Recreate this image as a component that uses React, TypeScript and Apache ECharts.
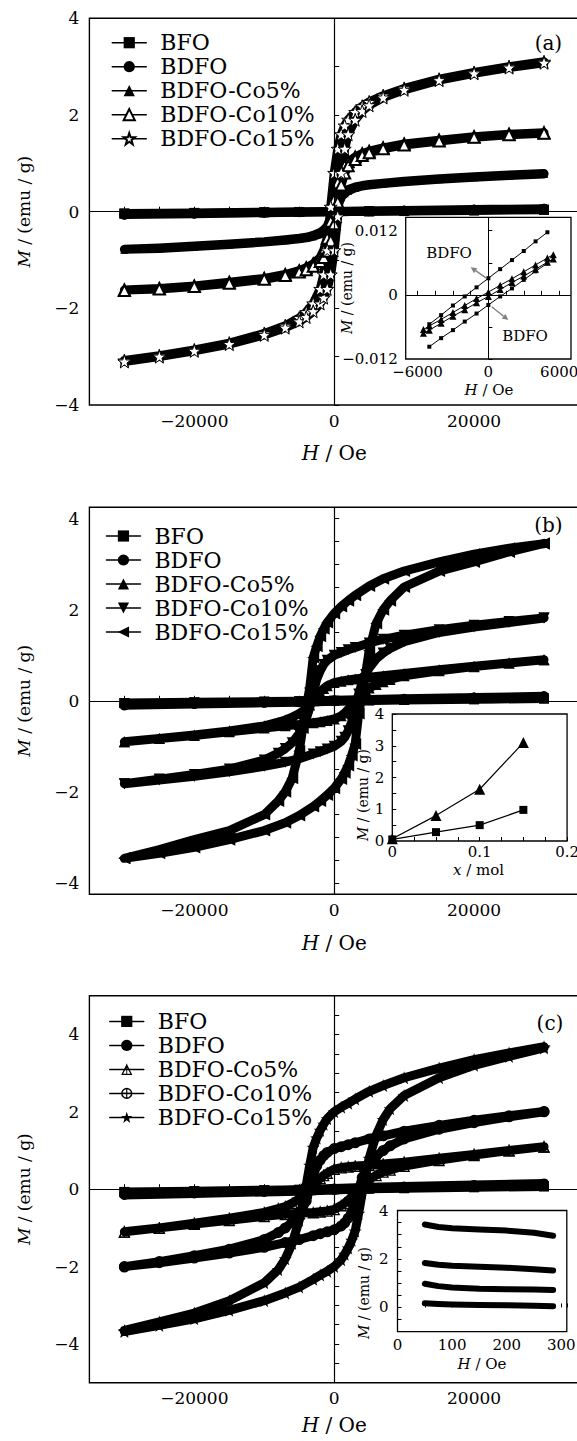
import React, { useEffect, useRef } from "react";
import * as echarts from "echarts";

const FONT = "DejaVu Serif";
const BLACK = "#000";

const SERIES_NAMES = ["BFO", "BDFO", "BDFO-Co5%", "BDFO-Co10%", "BDFO-Co15%"];

// ---------- Panel (a): descending branches (H from +30000 to -30000), emu/g ----------
const H_A = [30000, 25000, 20000, 15000, 10000, 7000, 5000, 4000, 3000, 2000, 1500, 1000, 500, 0, -500, -1000, -1500, -2000, -3000, -4000, -5000, -7000, -10000, -15000, -20000, -25000, -30000];
const A_CO5 = [0.79, 0.76, 0.72, 0.68, 0.63, 0.59, 0.56, 0.54, 0.51, 0.46, 0.42, 0.36, 0.25, 0.08, -0.12, -0.3, -0.38, -0.43, -0.49, -0.53, -0.55, -0.58, -0.62, -0.67, -0.71, -0.75, -0.78];
const A_CO10 = [1.63, 1.6, 1.55, 1.48, 1.4, 1.32, 1.25, 1.2, 1.13, 1.03, 0.95, 0.82, 0.6, 0.25, -0.2, -0.55, -0.8, -0.95, -1.08, -1.16, -1.22, -1.3, -1.38, -1.46, -1.54, -1.59, -1.62];
const A_CO15 = [3.1, 3.0, 2.88, 2.74, 2.55, 2.4, 2.27, 2.18, 2.06, 1.9, 1.78, 1.6, 1.3, 0.8, 0.1, -0.8, -1.3, -1.6, -1.9, -2.08, -2.2, -2.36, -2.52, -2.72, -2.86, -2.98, -3.08];
const H_LIN = [30000, 20000, 10000, 5000, 0, -5000, -10000, -20000, -30000];
const A_BFO = [0.04, 0.027, 0.014, 0.007, 0.001, -0.006, -0.012, -0.026, -0.039];
const A_BDFO = [0.062, 0.042, 0.022, 0.012, 0.002, -0.009, -0.019, -0.039, -0.06];

// inset (a)
const INS_A_H = [-5000, -4000, -3000, -2000, -1000, 0, 1000, 2000, 3000, 4000, 5000];
const INS_A_BDFO_UP = [-0.0055, -0.0038, -0.002, -0.0003, 0.0014, 0.0031, 0.0048, 0.0065, 0.0082, 0.01, 0.0117];
const INS_A_BDFO_LOW = [-0.0097, -0.0081, -0.0066, -0.005, -0.0035, -0.0019, -0.0003, 0.0012, 0.0028, 0.0044, 0.0059];
const INS_A_H2 = [-5500, -5000, -4000, -3000, -2000, -1000, 0, 1000, 2000, 3000, 4000, 5000, 5500];
const INS_A_BFO_UP = [-0.0065, -0.0058, -0.0046, -0.0033, -0.002, -0.0007, 0.0005, 0.0018, 0.003, 0.0043, 0.0056, 0.0069, 0.0075];
const INS_A_BFO_LOW = [-0.0072, -0.0066, -0.0053, -0.004, -0.0028, -0.0015, -0.0003, 0.001, 0.0023, 0.0035, 0.0048, 0.0061, 0.0067];

// ---------- Panels (b) and (c): descending branches ----------
const H_BC = [30000, 25000, 20000, 15000, 10000, 7000, 5000, 3000, 2000, 1000, 0, -1000, -1500, -2000, -2500, -3000, -3500, -4000, -4500, -5000, -6000, -7000, -8000, -10000, -15000, -20000, -25000, -30000];
const B_CO5 = [0.9, 0.83, 0.76, 0.68, 0.6, 0.55, 0.52, 0.48, 0.46, 0.43, 0.4, 0.33, 0.27, 0.19, 0.1, 0.0, -0.09, -0.17, -0.23, -0.28, -0.36, -0.42, -0.47, -0.55, -0.66, -0.75, -0.83, -0.9];
const B_CO10 = [1.82, 1.74, 1.66, 1.56, 1.44, 1.35, 1.27, 1.17, 1.12, 1.06, 1.0, 0.89, 0.8, 0.66, 0.47, 0.18, -0.15, -0.4, -0.58, -0.72, -0.92, -1.05, -1.15, -1.3, -1.5, -1.62, -1.72, -1.82];
const B_CO15 = [3.45, 3.35, 3.22, 3.05, 2.85, 2.68, 2.52, 2.32, 2.2, 2.07, 1.92, 1.72, 1.58, 1.42, 1.2, 0.95, 0.28, -0.15, -0.6, -1.1, -1.7, -2.0, -2.2, -2.5, -2.85, -3.05, -3.27, -3.46];
const B_BFO = [0.05, 0.035, 0.02, 0.012, 0.002, -0.008, -0.017, -0.034, -0.05];
const B_BDFO = [0.1, 0.07, 0.045, 0.03, 0.01, -0.015, -0.035, -0.07, -0.1];

const C_CO5 = [1.1, 1.0, 0.9, 0.8, 0.7, 0.65, 0.62, 0.6, 0.58, 0.56, 0.52, 0.42, 0.36, 0.28, 0.2, 0.1, 0.0, -0.1, -0.18, -0.25, -0.36, -0.45, -0.5, -0.6, -0.75, -0.88, -1.0, -1.1];
const C_CO10 = [2.01, 1.9, 1.78, 1.65, 1.5, 1.38, 1.3, 1.2, 1.15, 1.1, 1.05, 0.95, 0.87, 0.75, 0.6, 0.35, 0.0, -0.3, -0.5, -0.65, -0.85, -1.0, -1.12, -1.3, -1.55, -1.72, -1.87, -2.0];
const C_CO15 = [3.68, 3.52, 3.35, 3.13, 2.88, 2.68, 2.53, 2.33, 2.22, 2.12, 2.0, 1.82, 1.68, 1.52, 1.32, 1.08, 0.62, 0.1, -0.38, -0.8, -1.4, -1.8, -2.08, -2.42, -2.88, -3.2, -3.43, -3.65];
const C_BFO = [0.08, 0.055, 0.03, 0.02, 0.005, -0.012, -0.025, -0.05, -0.07];
const C_BDFO = [0.15, 0.11, 0.07, 0.05, 0.02, -0.02, -0.05, -0.09, -0.13];

// inset (b): magnetisation vs x
const INS_B_X = [0, 0.05, 0.1, 0.15];
const INS_B_TRI = [0.07, 0.8, 1.63, 3.1];
const INS_B_SQ = [0.05, 0.28, 0.5, 0.98];

// inset (c)
const INS_C_H = [50, 75, 100, 150, 200, 250, 285];
const INS_C_1 = [3.42, 3.32, 3.27, 3.22, 3.17, 3.08, 2.96];
const INS_C_2 = [1.83, 1.76, 1.72, 1.68, 1.64, 1.58, 1.52];
const INS_C_3 = [0.98, 0.88, 0.82, 0.77, 0.75, 0.74, 0.72];
const INS_C_4 = [0.17, 0.14, 0.12, 0.1, 0.09, 0.07, 0.05];

// tick / label values
const X_MAIN_LABELS = [-20000, 0, 20000];
const Y_B_TICKS = [-4, -3.5, -3, -2.5, -2, -1.5, -1, -0.5, 0, 0.5, 1, 1.5, 2, 2.5, 3, 3.5, 4];
const Y_B_LABELS = [-4, -2, 0, 2, 4];
const INS_A_X_TICKS = [-6000, -4500, -3000, -1500, 0, 1500, 3000, 4500, 6000];
const INS_A_X_LABELS = [-6000, 0, 6000];

// symbols
const STAR = "path://M10,0 L12.35,6.9 L19.5,6.9 L13.8,11.2 L15.9,18.1 L10,13.8 L4.1,18.1 L6.2,11.2 L0.5,6.9 L7.65,6.9 Z";
const TRI_DOWN = "path://M0,0 L20,0 L10,18 Z";
const TRI_LEFT = "path://M18,0 L18,20 L0,10 Z";
const TRI_CROSS = "path://M10,0 L20,18 L0,18 Z M10,5 L3.5,16 L16.5,16 Z M9.2,0 L10.8,0 L10.8,18 L9.2,18 Z";
const CIRCLE_CROSS = "path://M10,0 A10,10 0 1,1 10,20 A10,10 0 1,1 10,0 Z M10,2.5 A7.5,7.5 0 1,0 10,17.5 A7.5,7.5 0 1,0 10,2.5 Z M9,1 L11,1 L11,19 L9,19 Z M1,9 L19,9 L19,11 L1,11 Z";

const fmtNum = (v: number) => (v < 0 ? "\u2212" + String(Math.abs(v)) : String(v));

// full loop: descending branch, ascending branch is its point reflection
function loop(H: number[], M: number[]) {
  const desc = H.map((h, i) => [h, M[i]]);
  const asc = desc.map(([h, m]) => [-h, -m]);
  return desc.concat(asc);
}
function pairs(X: number[], Y: number[]) {
  return X.map((x, i) => [x, Y[i]]);
}

const tickStyle = (len: number) => ({ show: true, inside: true, length: len, lineStyle: { color: BLACK, width: 1 } });
const labelStyle = (size: number, margin: number, formatter: any, extra: any = {}) => ({
  show: true, margin, color: BLACK, fontFamily: FONT, fontSize: size, formatter, ...extra,
});

function mainX() {
  return {
    type: "value", gridIndex: 0, min: -35000, max: 35000, interval: 5000,
    axisLine: { show: false }, splitLine: { show: false },
    axisTick: tickStyle(5),
    axisLabel: labelStyle(17, 7, (v: number) => (X_MAIN_LABELS.includes(v) ? fmtNum(v) : "")),
  };
}

function mainLine(name: string, data: number[][], symbol: string, size: number, extra: any = {}) {
  return {
    type: "line", name, data, xAxisIndex: 0, yAxisIndex: 0,
    symbol, symbolSize: size, showSymbol: true, silent: true,
    lineStyle: { color: BLACK, width: 9, cap: "round", join: "round" },
    itemStyle: { color: BLACK },
    z: 3, ...extra,
  };
}

const centerLines = {
  silent: true, symbol: ["none", "none"], label: { show: false },
  lineStyle: { color: BLACK, width: 1.2, type: "solid" },
  data: [{ xAxis: 0 }, { yAxis: 0 }],
};

function legend(left: number, top: number) {
  return {
    data: SERIES_NAMES, orient: "vertical", left, top, padding: 0,
    itemWidth: 34, itemHeight: 14, itemGap: 0, selectedMode: false,
    textStyle: { color: BLACK, fontFamily: FONT, fontSize: 22, lineHeight: 24, padding: [0, 0, 0, 9] },
    lineStyle: { color: BLACK, width: 1.5 },
  };
}

function txt(x: number, y: number, text: string, size: number, rotate = false, fill = BLACK) {
  return {
    type: "text", x, y, rotation: rotate ? Math.PI / 2 : 0, z: 100, silent: true,
    style: {
      text, fill, fontFamily: FONT, fontSize: size,
      align: "center", verticalAlign: "middle", textAlign: "center", textVerticalAlign: "middle",
      rich: { i: { fontStyle: "italic", fontFamily: FONT, fontSize: size, fill } },
    },
  };
}

function arrow(x1: number, y1: number, x2: number, y2: number) {
  const dx = x2 - x1, dy = y2 - y1;
  const len = Math.sqrt(dx * dx + dy * dy);
  const ux = dx / len, uy = dy / len;
  const bx = x2 - 6 * ux, by = y2 - 6 * uy;
  const px = -uy, py = ux;
  return [
    { type: "line", z: 100, silent: true, shape: { x1, y1, x2: bx, y2: by }, style: { stroke: "#808080", lineWidth: 1.4 } },
    { type: "polygon", z: 100, silent: true, shape: { points: [[x2, y2], [bx + 3 * px, by + 3 * py], [bx - 3 * px, by - 3 * py]] }, style: { fill: "#808080" } },
  ];
}

const mainGrid = (top: number, height: number) => ({
  left: 89.4, top, width: 489.6, height, show: true, borderColor: BLACK, borderWidth: 1.4, backgroundColor: "rgba(0,0,0,0)",
});
const insetGrid = (left: number, top: number, width: number, height: number) => ({
  left, top, width, height, show: true, borderColor: BLACK, borderWidth: 1.3, backgroundColor: "#fff",
});

function optionA() {
  return {
    animation: false,
    grid: [mainGrid(18.3, 386.7), insetGrid(405.7, 217.3, 165.3, 141.7)],
    xAxis: [
      mainX(),
      {
        type: "value", gridIndex: 1, min: -7000, max: 7000,
        axisLine: { show: false }, splitLine: { show: false },
        axisTick: { ...tickStyle(4), customValues: INS_A_X_TICKS },
        axisLabel: labelStyle(15, 5, (v: number) => fmtNum(v), { customValues: INS_A_X_LABELS }),
      },
    ],
    yAxis: [
      {
        type: "value", gridIndex: 0, min: -4, max: 4, interval: 1,
        axisLine: { show: false }, splitLine: { show: false }, axisTick: tickStyle(5),
        axisLabel: labelStyle(17, 10, (v: number) => (Math.round(v) % 2 === 0 ? fmtNum(v) : "")),
      },
      {
        type: "value", gridIndex: 1, min: -0.012, max: 0.0145, interval: 0.006,
        axisLine: { show: false }, splitLine: { show: false }, axisTick: tickStyle(4),
        axisLabel: labelStyle(15, 8, (v: number) => {
          if (Math.abs(v) < 1e-9) return "0";
          if (Math.abs(Math.abs(v) - 0.012) < 1e-9) return v < 0 ? "\u22120.012" : "0.012";
          return "";
        }),
      },
    ],
    legend: legend(111.5, 30.7),
    series: [
      mainLine("BFO", loop(H_LIN, A_BFO), "rect", 10, { markLine: centerLines }),
      mainLine("BDFO", loop(H_LIN, A_BDFO), "circle", 10),
      mainLine("BDFO-Co5%", loop(H_A, A_CO5), "triangle", 8),
      mainLine("BDFO-Co10%", loop(H_A, A_CO10), "emptyTriangle", 11),
      mainLine("BDFO-Co15%", loop(H_A, A_CO15), STAR, 13, { itemStyle: { color: "#fff", borderColor: BLACK, borderWidth: 1 } }),
      ...[
        ["ins-bfo-up", pairs(INS_A_H2, INS_A_BFO_UP), "triangle", 7],
        ["ins-bfo-low", pairs(INS_A_H2, INS_A_BFO_LOW), "triangle", 7],
        ["ins-bdfo-up", pairs(INS_A_H, INS_A_BDFO_UP), "rect", 4],
        ["ins-bdfo-low", pairs(INS_A_H, INS_A_BDFO_LOW), "rect", 4],
      ].map(([name, data, symbol, size]: any, i: number) => ({
        type: "line", name, data, xAxisIndex: 1, yAxisIndex: 1, symbol, symbolSize: size, silent: true,
        lineStyle: { color: BLACK, width: 1 }, itemStyle: { color: BLACK }, z: 4,
        ...(i === 0 ? { markLine: { ...centerLines, lineStyle: { color: BLACK, width: 1, type: "solid" } } } : {}),
      })),
    ],
    graphic: [
      txt(24, 211.7, "{i|M} / (emu / g)", 17, true),
      txt(334.2, 453, "{i|H} / Oe", 20),
      txt(548.4, 42.7, "(a)", 20),
      txt(346.7, 288, "{i|M} / (emu / g)", 14, true),
      txt(489, 390, "{i|H} / Oe", 15),
      txt(449, 253.3, "BDFO", 15),
      txt(525, 336, "BDFO", 15),
      ...arrow(486.7, 278.3, 470.7, 267.3),
      ...arrow(491.7, 306.7, 508.3, 320),
    ],
  };
}

function optionB() {
  return {
    animation: false,
    grid: [mainGrid(27.3, 387), insetGrid(392.3, 234, 176, 127)],
    xAxis: [
      mainX(),
      {
        type: "value", gridIndex: 1, min: 0, max: 0.2, interval: 0.025,
        axisLine: { show: false }, splitLine: { show: false }, axisTick: tickStyle(4),
        axisLabel: labelStyle(15, 3, (v: number) => {
          const t = v * 10;
          return Math.abs(t - Math.round(t)) < 1e-6 ? String(Math.round(t) / 10) : "";
        }),
      },
    ],
    yAxis: [
      {
        type: "value", gridIndex: 0, min: -4.25, max: 4.25,
        axisLine: { show: false }, splitLine: { show: false },
        axisTick: { ...tickStyle(5), customValues: Y_B_TICKS },
        axisLabel: labelStyle(17, 10, (v: number) => fmtNum(v), { customValues: Y_B_LABELS }),
      },
      {
        type: "value", gridIndex: 1, min: 0, max: 4, interval: 0.5,
        axisLine: { show: false }, splitLine: { show: false }, axisTick: tickStyle(4),
        axisLabel: labelStyle(15, 8, (v: number) => (Math.abs(v - Math.round(v)) < 1e-9 ? String(Math.round(v)) : "")),
      },
    ],
    legend: legend(105.7, 44),
    series: [
      mainLine("BFO", loop(H_LIN, B_BFO), "rect", 10, { markLine: centerLines }),
      mainLine("BDFO", loop(H_LIN, B_BDFO), "circle", 10),
      mainLine("BDFO-Co5%", loop(H_BC, B_CO5), "triangle", 11),
      mainLine("BDFO-Co10%", loop(H_BC, B_CO10), TRI_DOWN, 11),
      mainLine("BDFO-Co15%", loop(H_BC, B_CO15), TRI_LEFT, 12),
      {
        type: "line", name: "ins-tri", data: pairs(INS_B_X, INS_B_TRI), xAxisIndex: 1, yAxisIndex: 1,
        symbol: "triangle", symbolSize: 11, silent: true, lineStyle: { color: BLACK, width: 1.2 }, itemStyle: { color: BLACK }, z: 4,
      },
      {
        type: "line", name: "ins-sq", data: pairs(INS_B_X, INS_B_SQ), xAxisIndex: 1, yAxisIndex: 1,
        symbol: "rect", symbolSize: 8, silent: true, lineStyle: { color: BLACK, width: 1.2 }, itemStyle: { color: BLACK }, z: 4,
      },
    ],
    graphic: [
      txt(24, 220.8, "{i|M} / (emu / g)", 17, true),
      txt(334.2, 463.3, "{i|H} / Oe", 20),
      txt(548.4, 45, "(b)", 20),
      txt(362.5, 315, "{i|M} / (emu / g)", 14, true),
      txt(478.5, 390, "{i|x} / mol", 15),
    ],
  };
}

function optionC() {
  return {
    animation: false,
    grid: [mainGrid(35.7, 387), insetGrid(397.5, 250.5, 169.3, 121.2)],
    xAxis: [
      mainX(),
      {
        type: "value", gridIndex: 1, min: 0, max: 310, interval: 50,
        axisLine: { show: false }, splitLine: { show: false }, axisTick: tickStyle(4),
        axisLabel: labelStyle(15, 6, (v: number) => (v % 100 === 0 && v <= 300 ? String(v) : "")),
      },
    ],
    yAxis: [
      {
        type: "value", gridIndex: 0, min: -5, max: 5, interval: 0.5,
        axisLine: { show: false }, splitLine: { show: false }, axisTick: tickStyle(5),
        axisLabel: labelStyle(17, 10, (v: number) => {
          const r = Math.round(v);
          return Math.abs(v - r) < 1e-9 && r % 2 === 0 && Math.abs(r) <= 4 ? fmtNum(r) : "";
        }),
      },
      {
        type: "value", gridIndex: 1, min: -1, max: 4, interval: 0.5,
        axisLine: { show: false }, splitLine: { show: false }, axisTick: tickStyle(4),
        axisLabel: labelStyle(15, 9, (v: number) => {
          const r = Math.round(v);
          return Math.abs(v - r) < 1e-9 && r % 2 === 0 && r >= 0 ? String(r) : "";
        }),
      },
    ],
    legend: legend(109, 49.4),
    series: [
      mainLine("BFO", loop(H_LIN, C_BFO), "rect", 10, { markLine: centerLines }),
      mainLine("BDFO", loop(H_LIN, C_BDFO), "circle", 10),
      mainLine("BDFO-Co5%", loop(H_BC, C_CO5), TRI_CROSS, 12),
      mainLine("BDFO-Co10%", loop(H_BC, C_CO10), CIRCLE_CROSS, 11),
      mainLine("BDFO-Co15%", loop(H_BC, C_CO15), STAR, 13),
      ...[INS_C_1, INS_C_2, INS_C_3, INS_C_4].map((arr, i) => ({
        type: "line", name: "ins-c-" + i, data: pairs(INS_C_H, arr), xAxisIndex: 1, yAxisIndex: 1,
        symbol: "none", silent: true, lineStyle: { color: BLACK, width: 6, cap: "round", join: "round" }, z: 4,
      })),
    ],
    graphic: [
      txt(24, 229.2, "{i|M} / (emu / g)", 17, true),
      txt(334.2, 465, "{i|H} / Oe", 20),
      txt(550, 63.3, "(c)", 20),
      txt(364.4, 333, "{i|M} / (emu / g)", 14, true),
      txt(482, 404, "{i|H} / Oe", 15),
    ],
  };
}

export default function App() {
  const refA = useRef<HTMLDivElement>(null);
  const refB = useRef<HTMLDivElement>(null);
  const refC = useRef<HTMLDivElement>(null);

  useEffect(() => {
    const charts: echarts.ECharts[] = [];
    const specs: [HTMLDivElement | null, any][] = [
      [refA.current, optionA()],
      [refB.current, optionB()],
      [refC.current, optionC()],
    ];
    specs.forEach(([el, opt]) => {
      if (!el) return;
      const c = echarts.init(el, undefined, { renderer: "svg" });
      c.setOption(opt);
      charts.push(c);
    });
    return () => charts.forEach((c) => c.dispose());
  }, []);

  return (
    <div style={{ position: "absolute", left: 0, top: 0, width: 577, height: 1441, overflow: "hidden", background: "#fff" }}>
      <div ref={refA} style={{ position: "absolute", left: 0, top: 0, width: 582, height: 480 }} />
      <div ref={refB} style={{ position: "absolute", left: 0, top: 480, width: 582, height: 480 }} />
      <div ref={refC} style={{ position: "absolute", left: 0, top: 960, width: 582, height: 481 }} />
    </div>
  );
}
